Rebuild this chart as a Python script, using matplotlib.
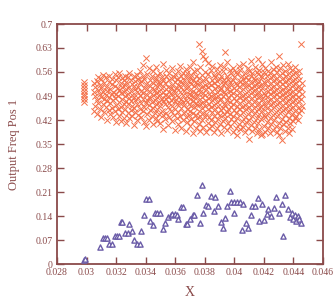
import numpy as np
import matplotlib
matplotlib.use("Agg")
import matplotlib.pyplot as plt
from matplotlib.ticker import FuncFormatter

# Orange crosses: x columns with their y values
cross_cols = [0.0298,
              0.0305, 0.0306, 0.0307, 0.0308, 0.0309, 0.0310, 0.0311, 0.0312, 0.0313, 0.0314,
              0.0315, 0.0316, 0.0317, 0.0318, 0.0319, 0.0320, 0.0321, 0.0322, 0.0323, 0.0324,
              0.0325, 0.0326, 0.0327, 0.0328, 0.0329, 0.0330, 0.0331, 0.0332, 0.0333, 0.0334,
              0.0335, 0.0336, 0.0337, 0.0338, 0.0339, 0.0340, 0.0341, 0.0342, 0.0343, 0.0344,
              0.0345, 0.0346, 0.0347, 0.0348, 0.0349, 0.0350, 0.0351, 0.0352, 0.0353, 0.0354,
              0.0355, 0.0356, 0.0357, 0.0358, 0.0359, 0.0360, 0.0361, 0.0362, 0.0363, 0.0364,
              0.0365, 0.0366, 0.0367, 0.0368, 0.0369, 0.0370, 0.0371, 0.0372, 0.0373, 0.0374,
              0.0375, 0.0376, 0.0377, 0.0378, 0.0379, 0.0380, 0.0381, 0.0382, 0.0383, 0.0384,
              0.0385, 0.0386, 0.0387, 0.0388, 0.0389, 0.0390, 0.0391, 0.0392, 0.0393, 0.0394,
              0.0395, 0.0396, 0.0397, 0.0398, 0.0399, 0.0400, 0.0401, 0.0402, 0.0403, 0.0404,
              0.0405, 0.0406, 0.0407, 0.0408, 0.0409, 0.0410, 0.0411, 0.0412, 0.0413, 0.0414,
              0.0415, 0.0416, 0.0417, 0.0418, 0.0419, 0.0420, 0.0421, 0.0422, 0.0423, 0.0424,
              0.0425, 0.0426, 0.0427, 0.0428, 0.0429, 0.0430, 0.0431, 0.0432, 0.0433, 0.0434,
              0.0435, 0.0436, 0.0437, 0.0438, 0.0439, 0.0440, 0.0441, 0.0442, 0.0443, 0.0444,
              0.0445, 0.0446]
cross_ys = [
    [0.472, 0.481, 0.489, 0.497, 0.505, 0.514, 0.522, 0.531],
    [0.447, 0.503, 0.528],
    [0.462, 0.491, 0.517],
    [0.438, 0.479, 0.534],
    [0.471, 0.508, 0.546],
    [0.452, 0.497, 0.523],
    [0.429, 0.486, 0.512, 0.539],
    [0.466, 0.501, 0.551],
    [0.443, 0.482, 0.527],
    [0.458, 0.493, 0.515, 0.544],
    [0.421, 0.474, 0.506],
    [0.449, 0.488, 0.532, 0.548],
    [0.437, 0.469, 0.511],
    [0.455, 0.497, 0.524, 0.541],
    [0.428, 0.478, 0.503],
    [0.446, 0.484, 0.519, 0.553],
    [0.414, 0.463, 0.495, 0.537],
    [0.451, 0.489, 0.512, 0.546],
    [0.433, 0.472, 0.507, 0.558],
    [0.418, 0.459, 0.498, 0.529],
    [0.444, 0.481, 0.515, 0.543],
    [0.427, 0.466, 0.503, 0.536],
    [0.452, 0.491, 0.522, 0.549],
    [0.412, 0.476, 0.509, 0.531],
    [0.439, 0.468, 0.497, 0.544],
    [0.425, 0.483, 0.516, 0.557],
    [0.448, 0.474, 0.505, 0.538],
    [0.431, 0.462, 0.493, 0.526],
    [0.406, 0.455, 0.487, 0.519, 0.548],
    [0.442, 0.479, 0.511, 0.534],
    [0.419, 0.467, 0.501, 0.552],
    [0.436, 0.484, 0.517, 0.541],
    [0.453, 0.492, 0.528, 0.563],
    [0.428, 0.471, 0.506, 0.533],
    [0.445, 0.481, 0.498, 0.547, 0.581],
    [0.413, 0.458, 0.514, 0.539],
    [0.402, 0.469, 0.495, 0.526, 0.602],
    [0.437, 0.477, 0.509, 0.553],
    [0.421, 0.463, 0.488, 0.521, 0.571],
    [0.449, 0.485, 0.503, 0.537],
    [0.432, 0.472, 0.512, 0.549],
    [0.408, 0.456, 0.494, 0.528, 0.562],
    [0.441, 0.479, 0.507, 0.534],
    [0.425, 0.466, 0.498, 0.543, 0.574],
    [0.416, 0.452, 0.486, 0.519, 0.551],
    [0.438, 0.473, 0.505, 0.532],
    [0.411, 0.461, 0.492, 0.524, 0.556],
    [0.447, 0.482, 0.513, 0.545],
    [0.394, 0.435, 0.476, 0.501, 0.538, 0.583],
    [0.423, 0.468, 0.494, 0.527],
    [0.441, 0.481, 0.509, 0.548, 0.566],
    [0.404, 0.457, 0.489, 0.516],
    [0.429, 0.471, 0.502, 0.536, 0.558],
    [0.446, 0.478, 0.513, 0.542],
    [0.418, 0.462, 0.495, 0.523, 0.571],
    [0.436, 0.485, 0.507, 0.546],
    [0.391, 0.451, 0.474, 0.498, 0.531, 0.553],
    [0.427, 0.466, 0.512, 0.539],
    [0.409, 0.443, 0.487, 0.521, 0.562],
    [0.432, 0.469, 0.503, 0.534, 0.577],
    [0.398, 0.455, 0.481, 0.516, 0.549],
    [0.421, 0.472, 0.494, 0.527, 0.558],
    [0.441, 0.463, 0.506, 0.538],
    [0.388, 0.428, 0.478, 0.512, 0.547, 0.569],
    [0.413, 0.452, 0.489, 0.521, 0.556],
    [0.436, 0.467, 0.497, 0.533],
    [0.402, 0.445, 0.481, 0.508, 0.542, 0.574],
    [0.424, 0.462, 0.493, 0.526, 0.551],
    [0.383, 0.439, 0.476, 0.504, 0.537, 0.588],
    [0.417, 0.458, 0.486, 0.518, 0.562],
    [0.396, 0.434, 0.471, 0.499, 0.532, 0.549],
    [0.426, 0.463, 0.491, 0.524, 0.567],
    [0.408, 0.447, 0.478, 0.511, 0.543, 0.642],
    [0.389, 0.432, 0.466, 0.502, 0.528, 0.576],
    [0.419, 0.455, 0.487, 0.517, 0.551, 0.621],
    [0.401, 0.441, 0.473, 0.498, 0.536, 0.608],
    [0.428, 0.462, 0.494, 0.522, 0.561, 0.597],
    [0.385, 0.437, 0.476, 0.509, 0.541],
    [0.412, 0.451, 0.483, 0.515, 0.554, 0.587],
    [0.396, 0.429, 0.468, 0.497, 0.529],
    [0.421, 0.458, 0.489, 0.521, 0.566],
    [0.403, 0.444, 0.479, 0.506, 0.538, 0.578],
    [0.386, 0.433, 0.465, 0.493, 0.527, 0.552],
    [0.415, 0.452, 0.484, 0.512, 0.545],
    [0.398, 0.441, 0.472, 0.501, 0.533, 0.569],
    [0.424, 0.461, 0.489, 0.519, 0.557],
    [0.407, 0.436, 0.477, 0.508, 0.539, 0.581],
    [0.382, 0.449, 0.482, 0.514, 0.548],
    [0.417, 0.455, 0.491, 0.524, 0.563],
    [0.399, 0.438, 0.468, 0.503, 0.536, 0.574],
    [0.426, 0.463, 0.496, 0.527, 0.619],
    [0.391, 0.444, 0.479, 0.511, 0.549, 0.588],
    [0.411, 0.452, 0.486, 0.518, 0.541],
    [0.403, 0.437, 0.472, 0.505, 0.532, 0.567],
    [0.422, 0.459, 0.493, 0.523, 0.556],
    [0.386, 0.431, 0.466, 0.499, 0.538, 0.572],
    [0.414, 0.448, 0.483, 0.512, 0.546],
    [0.397, 0.441, 0.475, 0.507, 0.529, 0.561],
    [0.376, 0.427, 0.462, 0.494, 0.521, 0.553],
    [0.409, 0.453, 0.487, 0.516, 0.578],
    [0.393, 0.436, 0.469, 0.502, 0.534, 0.566],
    [0.418, 0.457, 0.491, 0.525, 0.549],
    [0.401, 0.443, 0.478, 0.509, 0.541, 0.583],
    [0.384, 0.429, 0.465, 0.497, 0.528, 0.557],
    [0.413, 0.451, 0.484, 0.518, 0.546],
    [0.396, 0.438, 0.473, 0.505, 0.537, 0.571],
    [0.365, 0.421, 0.459, 0.492, 0.523, 0.562],
    [0.406, 0.447, 0.481, 0.513, 0.549, 0.591],
    [0.388, 0.433, 0.468, 0.501, 0.532, 0.558],
    [0.415, 0.456, 0.489, 0.519, 0.543],
    [0.398, 0.441, 0.476, 0.507, 0.538, 0.576],
    [0.381, 0.427, 0.463, 0.495, 0.526, 0.561],
    [0.411, 0.452, 0.486, 0.516, 0.553, 0.598],
    [0.394, 0.438, 0.471, 0.503, 0.533, 0.567],
    [0.377, 0.423, 0.458, 0.491, 0.521, 0.548],
    [0.379, 0.447, 0.482, 0.512, 0.544, 0.582],
    [0.403, 0.435, 0.469, 0.499, 0.531, 0.559],
    [0.386, 0.428, 0.461, 0.494, 0.527, 0.572],
    [0.414, 0.454, 0.487, 0.517, 0.549],
    [0.397, 0.441, 0.475, 0.506, 0.536, 0.563],
    [0.383, 0.426, 0.463, 0.496, 0.524, 0.556],
    [0.408, 0.449, 0.482, 0.513, 0.545, 0.589],
    [0.391, 0.436, 0.471, 0.502, 0.533, 0.568],
    [0.419, 0.457, 0.489, 0.519, 0.551],
    [0.402, 0.444, 0.477, 0.508, 0.539, 0.576],
    [0.385, 0.431, 0.466, 0.497, 0.528, 0.561],
    [0.375, 0.412, 0.452, 0.486, 0.516, 0.548, 0.608],
    [0.396, 0.439, 0.473, 0.504, 0.535, 0.571],
    [0.362, 0.423, 0.461, 0.493, 0.524, 0.557],
    [0.407, 0.448, 0.481, 0.511, 0.542, 0.579],
    [0.389, 0.434, 0.469, 0.499, 0.531, 0.563],
    [0.414, 0.455, 0.487, 0.517, 0.549],
    [0.398, 0.442, 0.476, 0.506, 0.537, 0.584],
    [0.381, 0.427, 0.463, 0.495, 0.526, 0.558],
    [0.411, 0.451, 0.484, 0.514, 0.546, 0.572],
    [0.394, 0.437, 0.472, 0.503, 0.534, 0.565],
    [0.418, 0.458, 0.491, 0.521, 0.553],
    [0.426, 0.445, 0.479, 0.509, 0.541, 0.574],
    [0.433, 0.466, 0.497, 0.528, 0.561],
    [0.421, 0.456, 0.488, 0.517, 0.549],
    [0.439, 0.474, 0.505, 0.536, 0.563],
    [0.448, 0.482, 0.514, 0.643],
    [0.462, 0.497, 0.528],
]

# Purple open triangles
tri_x = [0.02985, 0.0299, 0.0309, 0.0311, 0.03125, 0.0314, 0.0315, 0.0317, 0.0319,
         0.03205, 0.0322, 0.0323, 0.0324, 0.0326, 0.0328, 0.0329, 0.0331, 0.0332,
         0.0334, 0.0336, 0.0337, 0.0339, 0.0340, 0.0342, 0.0343, 0.0345, 0.0346,
         0.0348, 0.0350, 0.0352, 0.0353, 0.0355, 0.0357, 0.0358, 0.0360, 0.0361,
         0.0362, 0.0364, 0.0365, 0.0367, 0.0368, 0.0370, 0.0372, 0.0373, 0.0375,
         0.0377, 0.0378, 0.0379, 0.0381, 0.0382, 0.0384, 0.0386, 0.0387, 0.0389,
         0.0391, 0.0392, 0.0394, 0.0395, 0.0397, 0.0398, 0.0400, 0.0400, 0.0402,
         0.0404, 0.0405, 0.0406, 0.0408, 0.0409, 0.0411, 0.0412, 0.0414, 0.0416,
         0.0417, 0.0419, 0.0420, 0.0422, 0.0423, 0.0425, 0.0427, 0.0428, 0.0430,
         0.0432, 0.0433, 0.0434, 0.0436, 0.0438, 0.0439, 0.0440, 0.0441, 0.0442,
         0.0443, 0.0444, 0.0445]
tri_y = [0.012, 0.016, 0.050, 0.077, 0.077, 0.077, 0.058, 0.058, 0.082,
         0.082, 0.082, 0.123, 0.123, 0.091, 0.091, 0.117, 0.096, 0.070,
         0.058, 0.058, 0.097, 0.143, 0.190, 0.190, 0.125, 0.114, 0.148,
         0.148, 0.148, 0.103, 0.120, 0.138, 0.142, 0.146, 0.146, 0.143,
         0.132, 0.167, 0.167, 0.118, 0.116, 0.130, 0.143, 0.143, 0.201,
         0.119, 0.230, 0.150, 0.172, 0.170, 0.198, 0.155, 0.195, 0.170,
         0.122, 0.106, 0.135, 0.170, 0.212, 0.181, 0.181, 0.148, 0.181,
         0.181, 0.098, 0.174, 0.119, 0.106, 0.142, 0.169, 0.169, 0.193,
         0.125, 0.176, 0.128, 0.146, 0.160, 0.140, 0.162, 0.196, 0.148,
         0.175, 0.082, 0.201, 0.160, 0.138, 0.148, 0.130, 0.143, 0.126,
         0.140, 0.132, 0.119]

x_ticks = [0.028, 0.03, 0.032, 0.034, 0.036, 0.038, 0.04, 0.042, 0.044, 0.046]
y_ticks = [0, 0.07, 0.14, 0.21, 0.28, 0.35, 0.42, 0.49, 0.56, 0.63, 0.7]

cross_x = np.concatenate([[c] * len(ys) for c, ys in zip(cross_cols, cross_ys)])
cross_y = np.concatenate(cross_ys)

axis_col = "#8a4a4a"
text_col = "#8a4a4a"
orange = "#f4714a"
purple = "#6b5ca8"

plt.rcParams['font.family'] = ['Liberation Serif', 'DejaVu Serif']

fig = plt.figure(figsize=(3.36, 3.0), dpi=100)
ax = fig.add_axes([57/336, 1 - 264/300, 266/336, 240/300])

ax.scatter(cross_x, cross_y, marker='x', s=20, linewidths=0.7, color=orange, zorder=2)
ax.scatter(tri_x, tri_y, marker='^', s=14, facecolors='white', edgecolors=purple,
           linewidths=1.0, zorder=3)

ax.set_xlim(0.028, 0.046)
ax.set_ylim(0, 0.7)
ax.set_xticks(x_ticks)
ax.set_yticks(y_ticks)
fmt = FuncFormatter(lambda v, p: ('%g' % round(v, 4)))
ax.xaxis.set_major_formatter(fmt)
ax.yaxis.set_major_formatter(fmt)

for s in ax.spines.values():
    s.set_color(axis_col)
    s.set_linewidth(1.3)
ax.tick_params(direction='in', length=5, width=1.0, color=axis_col,
               labelsize=7, labelcolor=text_col, top=True, right=True, pad=3)

ax.set_xlabel("X", fontsize=10, color=text_col, labelpad=6)
ax.set_ylabel("Output Freq Pos 1", fontsize=9, color=text_col, labelpad=11)

fig.savefig("out.png", dpi=100)
